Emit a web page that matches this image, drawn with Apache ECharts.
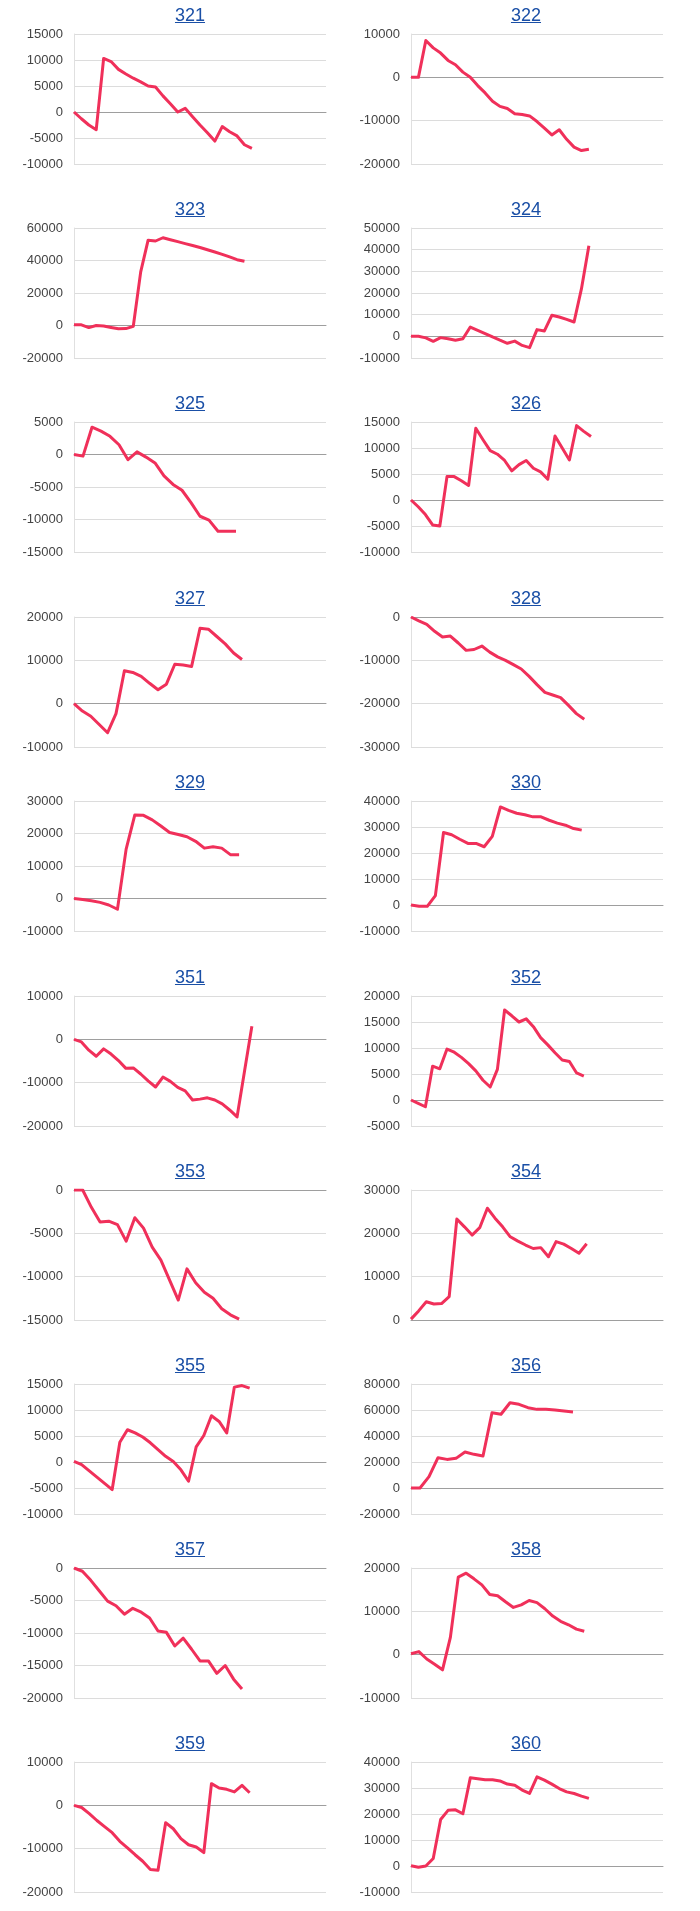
<!DOCTYPE html>
<html>
<head>
<meta charset="utf-8">
<script src="https://cdn.jsdelivr.net/npm/echarts/dist/echarts.min.js"></script>
<style>
  html, body { margin: 0; padding: 0; background: #fff; }
  #main { width: 700px; height: 1911px; }
</style>
</head>
<body>
<div id="main"></div>
<script>
// panel names, in reading order (two per row)
const labels = ['321', '322', '323', '324', '325', '326', '327', '328', '329', '330',
                '351', '352', '353', '354', '355', '356', '357', '358', '359', '360'];

// cumulative values of each panel
const s321 = [0, -1300, -2500, -3400, 10300, 9700, 8200, 7300, 6500, 5800, 5000, 4800, 3100, 1600, 0, 700, -900, -2500, -4000, -5600, -2800, -3800, -4600, -6300, -7000];
const s322 = [0, 0, 8500, 6800, 5600, 3900, 2900, 1200, 0, -1900, -3600, -5500, -6700, -7200, -8400, -8600, -8900, -10200, -11700, -13300, -12100, -14300, -16100, -16900, -16600];
const s323 = [400, 400, -1300, 0, -300, -1200, -2000, -1900, -500, 33000, 52500, 52000, 54000, 52800, 51600, 50400, 49200, 48000, 46600, 45200, 43800, 42200, 40500, 39500];
const s324 = [0, 0, -700, -2300, -600, -1100, -1800, -1100, 4300, 2800, 1300, -300, -1800, -3200, -2200, -4200, -5200, 3100, 2500, 9700, 8900, 7800, 6600, 22000, 41800];
const s325 = [0, -250, 4200, 3600, 2800, 1500, -800, 400, -400, -1300, -3300, -4600, -5500, -7400, -9500, -10100, -11800, -11800, -11800];
const s326 = [0, -1300, -2800, -4800, -5000, 4500, 4500, 3700, 2800, 13800, 11600, 9500, 8800, 7600, 5600, 6800, 7600, 6100, 5400, 4000, 12300, 10000, 7700, 14300, 13200, 12200];
const s327 = [0, -1700, -2900, -4800, -6700, -2300, 7600, 7200, 6300, 4700, 3200, 4500, 9100, 8900, 8600, 17400, 17200, 15500, 13800, 11700, 10200];
const s328 = [0, -900, -1700, -3300, -4600, -4400, -6000, -7700, -7500, -6700, -8100, -9200, -10000, -11000, -12000, -13700, -15600, -17400, -18000, -18600, -20400, -22300, -23600];
const s329 = [0, -300, -700, -1200, -2000, -3300, 15200, 25700, 25600, 24200, 22300, 20300, 19700, 19000, 17600, 15500, 15900, 15500, 13500, 13500];
const s330 = [0, -500, -500, 3600, 27900, 27000, 25300, 23700, 23700, 22400, 26400, 37700, 36400, 35300, 34700, 33900, 33900, 32600, 31500, 30700, 29400, 28800];
const s351 = [0, -600, -2500, -3900, -2200, -3400, -4900, -6700, -6600, -8000, -9600, -11000, -8700, -9700, -11100, -11900, -14000, -13800, -13500, -14000, -14900, -16300, -17900, -7400, 3000];
const s352 = [0, -650, -1300, 6500, 6000, 9800, 9200, 8200, 7000, 5600, 3800, 2500, 5900, 17300, 16200, 15000, 15600, 14100, 12000, 10600, 9100, 7700, 7400, 5200, 4600];
const s353 = [0, 0, -2000, -3700, -3600, -4000, -5900, -3200, -4400, -6600, -8100, -10400, -12700, -9100, -10700, -11800, -12500, -13700, -14400, -14900];
const s354 = [200, 2100, 4200, 3700, 3800, 5400, 23300, 21500, 19600, 21300, 25800, 23500, 21500, 19200, 18200, 17300, 16500, 16700, 14600, 18100, 17500, 16500, 15400, 17600];
const s355 = [100, -500, -1700, -2900, -4100, -5300, 3800, 6200, 5600, 4800, 3700, 2400, 1100, 100, -1500, -3700, 2900, 5100, 8900, 7800, 5600, 14400, 14700, 14200];
const s356 = [0, 0, 8700, 23300, 22000, 22800, 27700, 25900, 24600, 57900, 56700, 65600, 64400, 61800, 60500, 60500, 60000, 59200, 58500];
const s357 = [0, -500, -1900, -3500, -5100, -5800, -7100, -6200, -6800, -7700, -9700, -9900, -12000, -10800, -12500, -14300, -14300, -16200, -15000, -17100, -18600];
const s358 = [200, 700, -1000, -2200, -3500, 4000, 17900, 18800, 17500, 16100, 13900, 13600, 12200, 10900, 11500, 12500, 12000, 10600, 8900, 7700, 6900, 5900, 5400];
const s359 = [0, -500, -1900, -3500, -4900, -6300, -8300, -9800, -11400, -12900, -14800, -15000, -4000, -5400, -7700, -9100, -9600, -10900, 5000, 4000, 3700, 3100, 4600, 2900];
const s360 = [100, -500, 0, 2900, 17900, 21400, 21600, 20100, 33900, 33600, 33200, 33200, 32700, 31500, 31100, 29200, 27900, 34300, 33000, 31500, 29800, 28500, 27900, 26900, 26000];

const series = [s321, s322, s323, s324, s325, s326, s327, s328, s329, s330,
                s351, s352, s353, s354, s355, s356, s357, s358, s359, s360];

// length of each panel's x range (number of slots)
const slots = [35, 35, 35, 35, 29, 36, 31, 33, 30, 32, 35, 36, 30, 34, 34, 29, 31, 33, 34, 35];

// y axis ticks
const yMin  = [-10000, -20000, -20000, -10000, -15000, -10000, -10000, -30000, -10000, -10000,
               -20000, -5000, -15000, 0, -10000, -20000, -20000, -10000, -20000, -10000];
const yMax  = [15000, 10000, 60000, 50000, 5000, 15000, 20000, 0, 30000, 40000,
               10000, 20000, 0, 30000, 15000, 80000, 0, 20000, 10000, 40000];
const yStep = [5000, 10000, 20000, 10000, 5000, 5000, 10000, 10000, 10000, 10000,
               10000, 5000, 5000, 10000, 5000, 20000, 5000, 10000, 10000, 10000];

const rowTop = [34, 228, 422, 617, 801, 996, 1190, 1384, 1568, 1762];
const colLeft = [74, 411];
const colTitle = [190, 526];
const plotW = 252, plotH = 130;
const FONT = 'Arial, "Liberation Sans", sans-serif';
const LINK = '#1a4fa6';

const chart = echarts.init(document.getElementById('main'), null, { renderer: 'canvas' });

const ctx = document.createElement('canvas').getContext('2d');
ctx.font = '18px ' + FONT;

const grids = [], xAxes = [], yAxes = [], lines = [], graphics = [];
labels.forEach((name, i) => {
  const row = Math.floor(i / 2), col = i % 2;
  const top = rowTop[row];
  grids.push({ left: colLeft[col], top: top, width: plotW, height: plotH });
  xAxes.push({
    type: 'category', gridIndex: i, boundaryGap: false,
    data: Array.from({ length: slots[i] }, (_, k) => String(k + 1)),
    axisLabel: { show: false }, axisTick: { show: false },
    axisLine: { show: true, onZero: true, lineStyle: { color: '#9e9e9e', width: 1 } },
    splitLine: { show: false }
  });
  yAxes.push({
    type: 'value', gridIndex: i, min: yMin[i], max: yMax[i], interval: yStep[i],
    axisLine: { show: true, lineStyle: { color: '#e0e0e0' } },
    axisTick: { show: false },
    axisLabel: { color: '#444', fontSize: 13, fontFamily: FONT, margin: 11, formatter: v => String(v) },
    splitLine: { lineStyle: { color: '#dcdcdc', width: 1 } }
  });
  lines.push({
    type: 'line', xAxisIndex: i, yAxisIndex: i, data: series[i],
    showSymbol: false, smooth: false, z: 5,
    lineStyle: { color: '#f0305a', width: 3, join: 'round' },
    itemStyle: { color: '#f0305a' }
  });
  const cx = colTitle[col];
  const w = ctx.measureText(name).width;
  graphics.push({
    type: 'text', x: cx, y: top - 18,
    style: { text: name, fill: LINK, font: '18px ' + FONT, align: 'center', verticalAlign: 'middle' }
  });
  graphics.push({
    type: 'line',
    shape: { x1: cx - w / 2, y1: top - 11.5, x2: cx + w / 2, y2: top - 11.5 },
    style: { stroke: LINK, lineWidth: 1 }
  });
});

chart.setOption({
  animation: false,
  grid: grids,
  xAxis: xAxes,
  yAxis: yAxes,
  series: lines,
  graphic: graphics
});
</script>
</body>
</html>
